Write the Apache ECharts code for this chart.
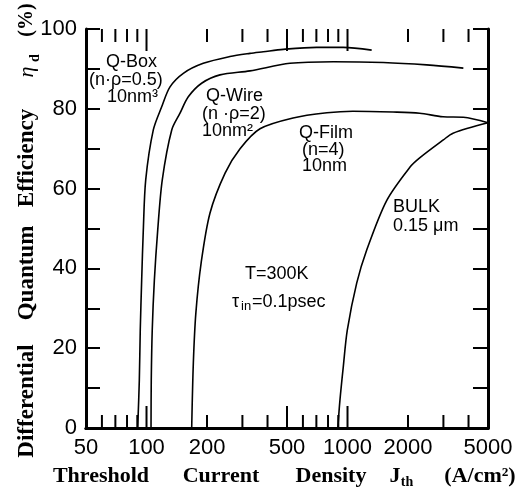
<!DOCTYPE html>
<html>
<head>
<meta charset="utf-8">
<script src="https://cdn.jsdelivr.net/npm/echarts@6/dist/echarts.min.js"></script>
<style>html,body{margin:0;padding:0;background:#fff;}#c{width:526px;height:493px;}</style>
</head>
<body>
<div id="c"></div>
<script>
// ---- Data ----
const qBoxJ   = [90.4, 92.1, 93.1, 94.6, 96.4, 99.1, 108.1, 119, 130.9, 152.5, 191.6, 260, 327, 381, 479, 702, 953, 1319];
const qBoxEta = [0, 12, 24.6, 37, 49.6, 62.2, 74.7, 80.5, 85.5, 88.9, 91.4, 93.1, 93.9, 94.3, 94.9, 95.4, 95.4, 94.7];

const qWireJ   = [105.3, 105.6, 106.8, 109.4, 113.7, 119.8, 133.5, 146.8, 161.4, 188, 232, 327, 517, 850, 1507, 2477, 3770];
const qWireEta = [0, 12, 24.6, 37, 49.6, 62.2, 74.7, 78.9, 83, 86.4, 88.5, 89.5, 91.4, 91.8, 91.6, 91.0, 90.2];

const qFilmJ   = [167.8, 171, 176, 187, 207, 246, 292, 367, 536, 790, 1063, 1684, 2286, 2987, 3770, 5000];
const qFilmEta = [0, 16.3, 28.8, 41.4, 53.9, 63.9, 70, 75, 77.7, 79, 79.4, 79.2, 78.9, 78, 77.9, 76.5];

const bulkJ   = [895, 917, 953, 998, 1111, 1246, 1566, 2047, 2286, 2997, 3350, 5000];
const bulkEta = [0, 7, 15.4, 24.6, 36.3, 44.6, 57, 65.4, 67.7, 72.2, 73.9, 76.5];

const xTickValues = [60, 70, 80, 90, 100, 200, 300, 400, 500, 600, 700, 800, 900, 1000, 2000, 3000, 4000];
const xTickLong   = [100, 500, 1000];
const xTickLabels = [50, 100, 200, 500, 1000, 2000, 5000];
const yMin = 0, yMax = 100, yTickStep = 10, yLabelStep = 20;

// ---- Build ----
const zip = (a, b) => a.map((v, i) => [v, b[i]]);
const sans = '"Liberation Sans", Arial, Helvetica, sans-serif';
const serif = '"Liberation Serif", "Times New Roman", serif';

function curve(name, J, eta) {
  return {
    name, type: 'line', data: zip(J, eta), showSymbol: false, symbol: 'none',
    smooth: 0.3,
    lineStyle: { color: '#000', width: 1.6 }, z: 3
  };
}

const chart = echarts.init(document.getElementById('c'), null, { renderer: 'canvas' });

const annot = (text, x, y, size) => ({
  type: 'text', x, y,
  style: { text, font: (size || 18) + 'px ' + sans, fill: '#000', textAlign: 'left', textVerticalAlign: 'middle' }
});
const titleTxt = (text, x, y, size, rot, align) => ({
  type: 'text', x, y, rotation: rot || 0,
  style: { text, font: 'bold ' + size + 'px ' + serif, fill: '#000', textAlign: align || 'center', textVerticalAlign: 'middle' }
});

chart.setOption({
  animation: false,
  backgroundColor: '#fff',
  grid: { left: 86, right: 38, top: 29, bottom: 65 },
  xAxis: [
    { type: 'log', logBase: 10, min: 50, max: 5000, position: 'bottom',
      axisLine: { show: true, lineStyle: { color: '#000', width: 3 } },
      axisTick: { show: false }, axisLabel: { show: false }, splitLine: { show: false }, minorTick: { show: false } },
    { type: 'log', logBase: 10, min: 50, max: 5000, position: 'top',
      axisLine: { show: true, lineStyle: { color: '#000', width: 3 } },
      axisTick: { show: false }, axisLabel: { show: false }, splitLine: { show: false } }
  ],
  yAxis: [
    { type: 'value', min: yMin, max: yMax, interval: yTickStep, position: 'left',
      axisLine: { show: true, lineStyle: { color: '#000', width: 3 } },
      axisTick: { show: true, inside: true, length: 14, lineStyle: { color: '#000', width: 2 } },
      axisLabel: { show: true, margin: 9, color: '#000', fontSize: 22, fontFamily: sans,
        formatter: v => (v % yLabelStep === 0 ? String(v) : '') },
      splitLine: { show: false } },
    { type: 'value', min: yMin, max: yMax, interval: yTickStep, position: 'right',
      axisLine: { show: true, lineStyle: { color: '#000', width: 3 } },
      axisTick: { show: true, inside: true, length: 15, lineStyle: { color: '#000', width: 2 } },
      axisLabel: { show: false }, splitLine: { show: false } }
  ],
  series: [
    curve('Q-Box', qBoxJ, qBoxEta),
    curve('Q-Wire', qWireJ, qWireEta),
    curve('Q-Film', qFilmJ, qFilmEta),
    curve('BULK', bulkJ, bulkEta),
    { type: 'custom', name: 'xticks', clip: false, z: 4,
      data: xTickValues.map(v => [v, xTickLong.includes(v) ? 1 : 0]),
      encode: { x: 0 },
      renderItem: (p, api) => {
        const v = api.value(0);
        const len = api.value(1) ? 22 : 13;
        const b = api.coord([v, yMin]);
        const t = api.coord([v, yMax]);
        return { type: 'group', children: [
          { type: 'line', shape: { x1: b[0], y1: b[1], x2: b[0], y2: b[1] - len }, style: { stroke: '#000', lineWidth: 2 } },
          { type: 'line', shape: { x1: t[0], y1: t[1], x2: t[0], y2: t[1] + len }, style: { stroke: '#000', lineWidth: 2 } }
        ] };
      } },
    { type: 'custom', name: 'xlabels', clip: false, z: 4,
      data: xTickLabels.map(v => [v, 0]),
      encode: { x: 0 },
      renderItem: (p, api) => {
        const v = api.value(0);
        const c = api.coord([v, yMin]);
        return { type: 'text', x: c[0], y: c[1] + 20,
          style: { text: String(v), font: '22px ' + sans, fill: '#000', textAlign: 'center', textVerticalAlign: 'middle' } };
      } }
  ],
  graphic: [
    annot('Q-Box', 106, 62),
    annot('(n·ρ=0.5)', 89, 80),
    annot('10nm³', 107, 97),
    annot('Q-Wire', 206, 96),
    annot('(n ·ρ=2)', 202, 114),
    annot('10nm²', 202, 131),
    annot('Q-Film', 299, 133),
    annot('(n=4)', 302, 150),
    annot('10nm', 302, 166),
    annot('BULK', 393, 207),
    annot('0.15 μm', 393, 226),
    annot('T=300K', 245, 274),
    annot('τ', 232, 302),
    annot('in', 241, 306, 13),
    annot('=0.1psec', 252, 302),
    // x title
    titleTxt('Threshold', 101, 476, 22),
    titleTxt('Current', 221, 476, 22),
    titleTxt('Density', 331, 476, 22),
    titleTxt('J', 395, 476, 22),
    titleTxt('th', 407, 482, 14),
    titleTxt('(A/cm²)', 480, 476, 22),
    // y title
    titleTxt('Differential', 27, 401, 23, Math.PI / 2),
    titleTxt('Quantum', 27, 273, 23, Math.PI / 2),
    titleTxt('Efficiency', 27, 158, 23, Math.PI / 2),
    { type: 'text', x: 27, y: 72, rotation: Math.PI / 2,
      style: { text: 'η', font: 'italic 22px ' + serif, fill: '#000', textAlign: 'center', textVerticalAlign: 'middle' } },
    titleTxt('d', 35, 58, 14, Math.PI / 2),
    titleTxt('(%)', 27, 20, 20, Math.PI / 2)
  ]
});
</script>
</body>
</html>
